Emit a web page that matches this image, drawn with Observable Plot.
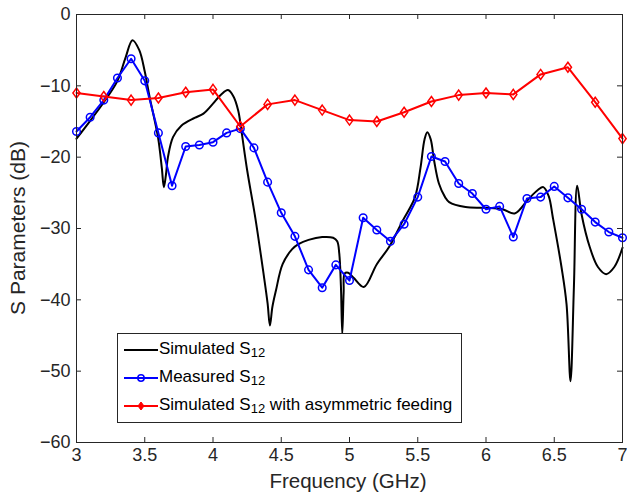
<!DOCTYPE html>
<html>
<head>
<meta charset="utf-8">
<script src="https://cdn.jsdelivr.net/npm/d3@7"></script>
<script src="https://cdn.jsdelivr.net/npm/@observablehq/plot@0.6"></script>
<style>
  html, body { margin: 0; padding: 0; background: #fff; }
  svg { display: block; }
</style>
</head>
<body>
<div id="chart"></div>
<script>
// ---- data ----
const xTicks = [3, 3.5, 4, 4.5, 5, 5.5, 6, 6.5, 7];
const yTicks = [0, -10, -20, -30, -40, -50, -60];

const simFreq = [3.00,3.10,3.20,3.30,3.36,3.41,3.46,3.50,3.536,3.597,3.625,3.64,3.655,3.67,3.707,3.768,3.865,3.93,4.00,4.06,4.11,4.15,4.185,4.206,4.25,4.31,4.37,4.40,4.417,4.435,4.461,4.51,4.58,4.626,4.70,4.80,4.88,4.91,4.925,4.937,4.947,4.957,4.965,4.99,5.03,5.105,5.20,5.29,5.39,5.48,5.52,5.55,5.57,5.595,5.62,5.655,5.70,5.73,5.85,6.00,6.12,6.21,6.31,6.38,6.42,6.46,6.49,6.553,6.59,6.619,6.644,6.668,6.70,6.76,6.82,6.88,6.94,7.00];
const simS12 = [-17.4,-14.9,-12.3,-9.3,-6.0,-3.6,-5.0,-8.0,-11.6,-17.2,-21.5,-24.2,-22.5,-20.0,-17.2,-15.6,-14.5,-13.9,-12.5,-11.2,-10.6,-11.5,-13.5,-16.0,-21.8,-28.5,-36.3,-40.5,-43.6,-41.0,-38.7,-35.0,-32.9,-32.2,-31.6,-31.2,-31.3,-31.8,-33.5,-38.0,-44.8,-39.0,-36.3,-36.2,-36.9,-38.2,-35.0,-32.6,-28.9,-25.6,-21.5,-17.5,-16.5,-17.5,-20.5,-23.7,-25.6,-26.3,-27.0,-27.1,-27.3,-27.9,-25.9,-24.6,-24.2,-25.5,-28.5,-35.4,-40.6,-51.4,-38.2,-24.0,-28.0,-32.6,-35.4,-36.4,-35.4,-32.7];

const measFreq = [3.0,3.1,3.2,3.3,3.4,3.5,3.6,3.7,3.8,3.9,4.0,4.1,4.2,4.3,4.4,4.5,4.6,4.7,4.8,4.9,5.0,5.1,5.2,5.3,5.4,5.5,5.6,5.7,5.8,5.9,6.0,6.1,6.2,6.3,6.4,6.5,6.6,6.7,6.8,6.9,7.0];
const measS12 = [-16.4,-14.4,-12.0,-8.9,-6.2,-9.3,-16.6,-24.0,-18.5,-18.3,-17.9,-16.6,-16.0,-18.7,-23.5,-27.8,-31.1,-35.8,-38.3,-35.1,-37.3,-28.5,-30.2,-31.8,-29.4,-25.6,-19.9,-20.6,-23.7,-25.1,-27.3,-26.9,-31.2,-25.8,-25.6,-24.1,-25.7,-27.3,-29.1,-30.5,-31.3];

const asymFreq = [3.0,3.2,3.4,3.6,3.8,4.0,4.2,4.4,4.6,4.8,5.0,5.2,5.4,5.6,5.8,6.0,6.2,6.4,6.6,6.8,7.0];
const asymS12 = [-11.0,-11.5,-12.0,-11.7,-10.9,-10.5,-15.7,-12.6,-12.0,-13.4,-14.8,-15.0,-13.7,-12.2,-11.3,-11.0,-11.2,-8.4,-7.4,-12.3,-17.4];

const seriesNames = ["Simulated S", "Measured S", "Simulated S"];
const seriesSuffix = ["", "", " with asymmetric feeding"];
const seriesColors = ["#000000", "#0000ff", "#ff0000"];

// ---- build tables ----
const sim = simFreq.map((f, i) => ({f, v: simS12[i]}));
const meas = measFreq.map((f, i) => ({f, v: measS12[i]}));
const asym = asymFreq.map((f, i) => ({f, v: asymS12[i]}));

// MATLAB-like tall diamond
const tallDiamond = {
  draw(ctx, size) {
    const r = Math.sqrt(size / Math.PI);
    const hw = r * 0.72, hh = r * 1.0;
    ctx.moveTo(0, -hh);
    ctx.lineTo(hw, 0);
    ctx.lineTo(0, hh);
    ctx.lineTo(-hw, 0);
    ctx.closePath();
  }
};

const W = 627, H = 495;
const mL = 76, mR = 5, mT = 14, mB = 53;
const tickLenX = 5 / (W - mL - mR) * 4;   // in GHz
const tickLenY = 5 / (H - mT - mB) * 60;  // in dB
const axisColor = "#262626";

const chart = Plot.plot({
  width: W,
  height: H,
  marginLeft: mL,
  marginRight: mR,
  marginTop: mT,
  marginBottom: mB,
  style: {fontFamily: "'Liberation Sans', Arial, sans-serif", background: "#fff", color: axisColor},
  x: {domain: [3, 7]},
  y: {domain: [-60, 0]},
  marks: [
    // inward ticks on all four sides
    Plot.ruleX(xTicks, {y1: -60, y2: -60 + tickLenY, stroke: axisColor, strokeWidth: 1}),
    Plot.ruleX(xTicks, {y1: 0, y2: -tickLenY, stroke: axisColor, strokeWidth: 1}),
    Plot.ruleY(yTicks, {x1: 3, x2: 3 + tickLenX, stroke: axisColor, strokeWidth: 1}),
    Plot.ruleY(yTicks, {x1: 7, x2: 7 - tickLenX, stroke: axisColor, strokeWidth: 1}),
    Plot.axisX({ticks: xTicks, tickSize: 0, tickPadding: 6, fontSize: 18, label: null, tickFormat: d => String(d)}),
    Plot.axisY({ticks: yTicks, tickSize: 0, tickPadding: 6, fontSize: 18, label: null, tickFormat: d => d < 0 ? "\u2212" + Math.abs(d) : String(d)}),
    // series
    Plot.line(sim, {x: "f", y: "v", stroke: seriesColors[0], strokeWidth: 2, curve: "catmull-rom"}),
    Plot.line(meas, {x: "f", y: "v", stroke: seriesColors[1], strokeWidth: 2}),
    Plot.dot(meas, {x: "f", y: "v", stroke: seriesColors[1], strokeWidth: 1.5, r: 3.8, fill: "none"}),
    Plot.line(asym, {x: "f", y: "v", stroke: seriesColors[2], strokeWidth: 2}),
    Plot.dot(asym, {x: "f", y: "v", stroke: seriesColors[2], strokeWidth: 1.5, r: 5, symbol: tallDiamond, fill: "none"}),
    Plot.frame({stroke: axisColor, strokeWidth: 1})
  ]
});

document.getElementById("chart").appendChild(chart);

const svg = d3.select(chart);
const font = "'Liberation Sans', Arial, sans-serif";

// axis titles
svg.append("text")
  .attr("x", 348).attr("y", 483)
  .attr("text-anchor", "middle").attr("dominant-baseline", "middle")
  .attr("font-family", font).attr("font-size", 20.5).attr("fill", axisColor)
  .text("Frequency (GHz)");
svg.append("text")
  .attr("transform", "translate(19,228) rotate(-90)")
  .attr("text-anchor", "middle").attr("dominant-baseline", "middle")
  .attr("font-family", font).attr("font-size", 21).attr("fill", axisColor)
  .text("S Parameters (dB)");

// legend
const lg = svg.append("g").attr("text-anchor", "start");
lg.append("rect")
  .attr("x", 117.5).attr("y", 333.5).attr("width", 344).attr("height", 89)
  .attr("fill", "#fff").attr("stroke", axisColor).attr("stroke-width", 1);
const rows = [350, 378, 406];
seriesNames.forEach((name, i) => {
  const y = rows[i];
  lg.append("line").attr("x1", 124).attr("x2", 158).attr("y1", y).attr("y2", y)
    .attr("stroke", seriesColors[i]).attr("stroke-width", 2);
  if (i === 1) {
    lg.append("circle").attr("cx", 141).attr("cy", y).attr("r", 3.2)
      .attr("fill", "none").attr("stroke", seriesColors[i]).attr("stroke-width", 1.5);
  }
  if (i === 2) {
    lg.append("path").attr("d", `M141,${y-4}L144,${y}L141,${y+4}L138,${y}Z`)
      .attr("fill", seriesColors[i]).attr("stroke", seriesColors[i]).attr("stroke-width", 1);
  }
  const t = lg.append("text").attr("x", 159).attr("y", y)
    .attr("text-anchor", "start")
    .attr("dominant-baseline", "middle")
    .attr("font-family", font).attr("font-size", 17).attr("fill", "#000");
  t.append("tspan").text(name);
  t.append("tspan").attr("font-size", 13).attr("dy", 4).text("12");
  if (seriesSuffix[i]) t.append("tspan").attr("dy", -4).text(seriesSuffix[i]);
});
</script>
</body>
</html>
